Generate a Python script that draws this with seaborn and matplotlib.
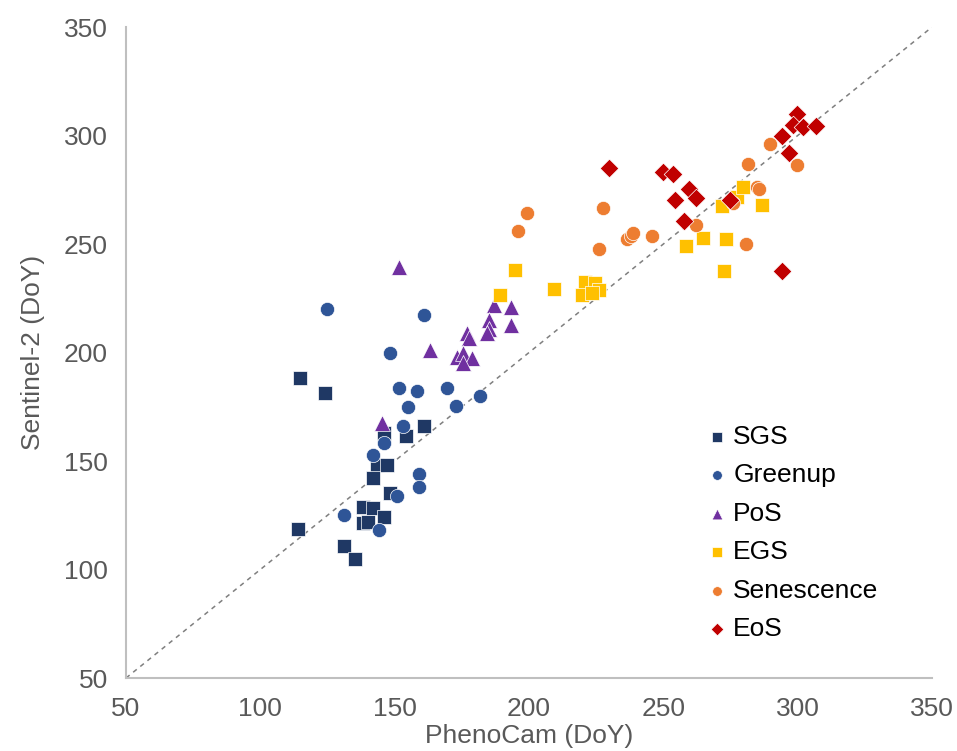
import numpy as np
import pandas as pd
import matplotlib
matplotlib.use('Agg')
import matplotlib.pyplot as plt
import seaborn as sns

# PhenoCam vs Sentinel-2 day of year
sgs_x = [114.8, 124.1, 114.0, 131.1, 135.2, 160.9, 146.0, 154.2, 143.3, 147.0,
         142.0, 148.3, 138.1, 141.8, 146.0, 138.1, 140.2]
sgs_y = [188.2, 181.3, 118.7, 110.8, 105.0, 166.1, 162.8, 161.4, 148.2, 148.2,
         142.3, 135.1, 129.0, 128.4, 124.1, 121.3, 122.0]

greenup_x = [124.8, 160.9, 148.3, 151.7, 158.2, 169.3, 181.7, 155.1, 172.8, 153.2,
             146.0, 142.0, 159.1, 159.1, 150.7, 131.1, 144.3]
greenup_y = [220.0, 217.3, 199.9, 183.5, 182.3, 183.5, 180.0, 175.0, 175.3, 166.1,
             158.4, 153.0, 143.8, 138.1, 133.9, 125.1, 118.2]

pos_x = [151.7, 187.0, 193.2, 185.2, 193.2, 185.2, 184.2, 177.0, 177.8, 163.1,
         173.1, 175.3, 178.6, 175.3, 145.2]
pos_y = [239.6, 221.9, 221.1, 215.0, 212.7, 211.0, 208.8, 208.8, 206.5, 201.1,
         198.1, 199.6, 197.3, 195.0, 167.6]

egs_x = [194.9, 189.2, 209.3, 220.8, 224.6, 226.1, 219.6, 223.3, 258.6, 264.6,
         273.5, 272.7, 271.7, 277.5, 279.8, 286.6]
egs_y = [238.0, 226.4, 229.1, 232.6, 232.1, 228.8, 226.5, 227.3, 249.1, 253.0,
         252.3, 237.6, 267.5, 271.6, 276.5, 268.0]

sen_x = [199.1, 195.8, 227.6, 225.9, 236.3, 237.8, 238.8, 245.6, 262.0, 280.7,
         276.0, 284.7, 285.7, 281.6, 289.7, 299.6]
sen_y = [264.1, 256.1, 266.5, 247.7, 252.2, 253.7, 254.9, 253.8, 258.8, 250.0,
         268.9, 276.5, 275.3, 286.9, 296.1, 286.4]

eos_x = [229.9, 249.7, 253.7, 259.7, 262.1, 254.3, 274.8, 257.8, 294.1, 296.8,
         294.0, 299.6, 298.3, 301.8, 306.8]
eos_y = [284.9, 283.1, 282.3, 275.3, 271.4, 270.3, 270.1, 260.4, 237.6, 291.8,
         300.0, 309.9, 305.0, 303.8, 304.6]

series = [
    ('SGS', sgs_x, sgs_y, '#1F3864', 's', 100),
    ('Greenup', greenup_x, greenup_y, '#2F5597', 'o', 105),
    ('PoS', pos_x, pos_y, '#7030A0', '^', 130),
    ('EGS', egs_x, egs_y, '#FFC000', 's', 100),
    ('Senescence', sen_x, sen_y, '#ED7D31', 'o', 105),
    ('EoS', eos_x, eos_y, '#C00000', 'D', 90),
]

plt.rcParams['font.family'] = ['Liberation Sans', 'DejaVu Sans']
fig = plt.figure(figsize=(9.57, 7.51), dpi=100)
ax = fig.add_axes([0.1317, 0.0972, 0.8422, 0.8668])

# 1:1 line
ax.plot([50, 350], [50, 350], ls=(0, (3, 3)), color='#7F7F7F', lw=1.1, zorder=1)

for name, xs, ys, col, mk, sz in series:
    df = pd.DataFrame({'x': xs, 'y': ys})
    sns.scatterplot(data=df, x='x', y='y', ax=ax, color=col, marker=mk, s=sz,
                    edgecolor='white', linewidth=0.5, label=name, zorder=3)

ax.set_xlim(50, 350)
ax.set_ylim(50, 350)
ax.set_xticks(np.arange(50, 351, 50))
ax.set_yticks(np.arange(50, 351, 50))
for side in ['top', 'right']:
    ax.spines[side].set_visible(False)
for side in ['left', 'bottom']:
    ax.spines[side].set_color('#BFBFBF')
    ax.spines[side].set_linewidth(1.5)
ax.tick_params(length=0, labelsize=19, colors='#595959')
ax.tick_params(axis='x', pad=14)
ax.tick_params(axis='y', pad=13)
ax.set_xlabel('PhenoCam (DoY)', fontsize=19, color='#595959', labelpad=2)
ax.set_ylabel('Sentinel-2 (DoY)', fontsize=19, color='#595959', labelpad=14)

ax.legend(loc='lower right', bbox_to_anchor=(0.963, 0.02), frameon=False,
          fontsize=19, markerscale=0.68, handletextpad=0.1, labelspacing=0.55,
          handlelength=1.0)

fig.savefig('out.png', dpi=100)
